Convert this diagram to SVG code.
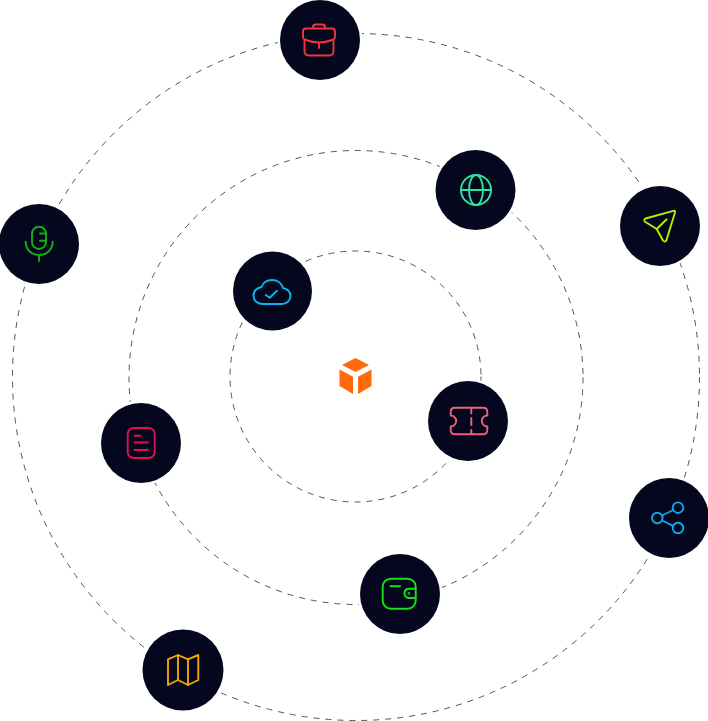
<svg xmlns="http://www.w3.org/2000/svg" width="708" height="721" viewBox="0 0 708 721">
<style>
.ring{fill:none;stroke:#555;stroke-width:1;stroke-dasharray:6 6}
.disc{fill:#05071f;stroke:#fff;stroke-width:5;paint-order:stroke}
.i{fill:none;stroke-width:1.9;stroke-linecap:round;stroke-linejoin:round}
</style>
<rect width="708" height="721" fill="#fff"/>
<g id="connectors">
<circle class="ring" cx="356" cy="377" r="343.5"/>
<circle class="ring" cx="356" cy="377.5" r="227"/>
<circle class="ring" cx="355.5" cy="376.5" r="125.5"/>
</g>
<g id="core" fill="#ff6a0d">
<path d="M355.500,358 L369,365 L355.500,372 L342,365Z"/>
<path d="M339.500,369.500 L353,376.700 V394 L339.500,386Z"/>
<path d="M371.500,369.500 L358,376.700 V394 L371.500,386Z"/>
</g>
<g id="briefcase">
<circle class="disc" cx="320" cy="40" r="40"/>
<g class="i" stroke="#f0353f">
<path d="M313,28 V27 Q313,24.500 316,24.500 H322 Q325,24.500 325,27 V28"/>
<path d="M306,28.500 H332 Q335,28.500 335,31.500 V37 Q335,39 332,40 Q319,45 306,40 Q303,39 303,37 V31.500 Q303,28.500 306,28.500Z"/>
<path d="M304.500,41 V51 Q304.500,55.500 309,55.500 H329 Q333.500,55.500 333.500,51 V41"/>
<path d="M319,43 V48"/>
</g>
</g>
<g id="globe">
<circle class="disc" cx="475.500" cy="190" r="40"/>
<g class="i" stroke="#2ee59d">
<circle cx="476" cy="190" r="15"/>
<ellipse cx="476" cy="190" rx="7" ry="15"/>
<path d="M461,190 H491"/>
</g>
</g>
<g id="send">
<circle class="disc" cx="660" cy="226" r="40"/>
<g class="i" stroke="#b4f000">
<path d="M645.500,218.500 L673.500,210.800 Q675.500,210.500 675,212.500 L666.500,240 Q665,243 663,240.500 L656.700,229 L645.500,222 Q643,220 645.500,218.500Z"/>
<path d="M656.700,229 L666.700,219.300"/>
</g>
</g>
<g id="mic">
<circle class="disc" cx="39" cy="244" r="40"/>
<g class="i" stroke="#12b012">
<rect x="32" y="226.700" width="14" height="22.300" rx="7"/>
<path d="M40,233.500 H46 M40,240.700 H46"/>
<path d="M25.700,241.700 C25.700,250 32,255 39,255 C46,255 52.700,250 52.700,241.700"/>
<path d="M39,255 V261"/>
</g>
</g>
<g id="cloud">
<circle class="disc" cx="272.500" cy="291" r="39.500"/>
<g class="i" stroke="#0bb3f0">
<path d="M263,304 H282 C287,304 290.500,300 290.500,296 C290.500,291.500 287,288.500 283,288 C281.500,283 277,280 272,280 C267,280 263,283 261.500,287 C257,288 253.500,291 253.500,296 C253.500,300.500 257.500,304 263,304Z"/>
<path d="M265.700,295 L269.700,297.700 L277,290.700"/>
</g>
</g>
<g id="ticket">
<circle class="disc" cx="468" cy="421" r="40"/>
<g class="i" stroke="#f0607a">
<path d="M455,407.700 H483 Q487.300,407.700 487.300,412 V415.500 A5.500,5.500 0 0 0 487.300,426.500 V430 Q487.300,434.300 483,434.300 H455 Q450.700,434.300 450.700,430 V426.500 A5.500,5.500 0 0 0 450.700,415.500 V412 Q450.700,407.700 455,407.700Z"/>
<path d="M471.300,407.700 V413.500 M471.300,418 V425 M471.300,430 V434.300"/>
</g>
</g>
<g id="list">
<circle class="disc" cx="141" cy="443" r="40"/>
<g class="i" stroke="#e0104f">
<rect x="127.700" y="428" width="27" height="30" rx="6"/>
<path d="M134.500,435.700 H140.500 M134.500,442.500 H148 M134.500,450 H148"/>
</g>
</g>
<g id="share">
<circle class="disc" cx="669" cy="518" r="40"/>
<g class="i" stroke="#0ea5e9">
<circle cx="657.300" cy="518" r="5.300"/>
<circle cx="678" cy="507.700" r="5.300"/>
<circle cx="678" cy="528" r="5.300"/>
<path d="M662,515.500 L673.200,510 M662,520.500 L673.200,525.800"/>
</g>
</g>
<g id="wallet">
<circle class="disc" cx="400" cy="594" r="40"/>
<g class="i" stroke="#17e017">
<rect x="382.700" y="578.700" width="33" height="30" rx="8"/>
<path d="M390.500,586.300 H400"/>
<path d="M415.700,588.700 H408.500 A4.700,4.700 0 0 0 408.500,598 H415.700"/>
<circle cx="409" cy="593.300" r="0.400"/>
</g>
</g>
<g id="map">
<circle class="disc" cx="183" cy="670" r="40.500"/>
<g class="i" stroke="#f0a500">
<path d="M168,659.300 L178,655 L188,659.300 L198.300,655 V680 L188,685 L178,680 L168,685Z"/>
<path d="M178,655 V680 M188,659.300 V685"/>
</g>
</g>
</svg>
